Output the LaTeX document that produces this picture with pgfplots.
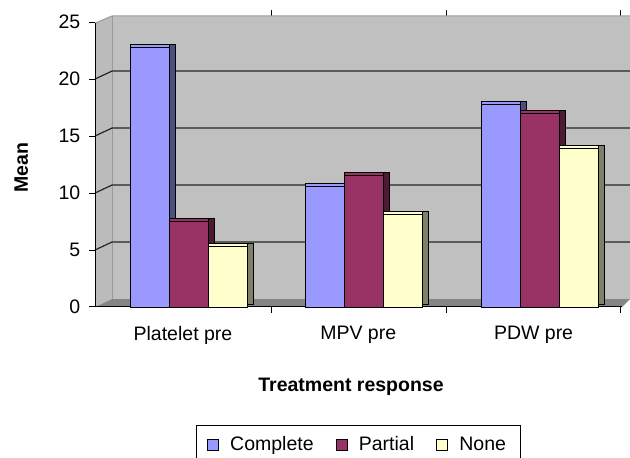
\documentclass[border=0pt]{standalone}
\usepackage{fontspec}
\setmainfont{Liberation Sans}
\usepackage{pgfplots}
\pgfplotsset{compat=1.18}
\definecolor{cfront}{HTML}{9999FF}
\definecolor{cside}{HTML}{4D4D80}
\definecolor{pfront}{HTML}{993366}
\definecolor{pside}{HTML}{4D1A33}
\definecolor{nfront}{HTML}{FFFFCC}
\definecolor{nside}{HTML}{80806A}
\definecolor{wall}{HTML}{C0C0C0}
\definecolor{sidewall}{HTML}{BBBBBB}
\definecolor{floorc}{HTML}{858585}
\newcommand{\fs}{\fontsize{9.75}{11.7}\selectfont}
\begin{document}
\begin{tikzpicture}
\path[use as bounding box] (0,0) rectangle (315pt,229pt);
\begin{axis}[
  at={(47.5pt,75.5pt)}, anchor=south west,
  scale only axis, width=267.5pt, height=145.5pt,
  xmin=-0.536, xmax=2.516, ymin=0, ymax=25.53,
  clip=false,
  axis line style={draw=none},
  /pgf/number format/assume math mode=true,
  tick align=outside, major tick length=3pt,
  tick style={black, line width=0.5pt},
  ytick={0,5,10,15,20,25},
  yticklabel style={font=\fs, xshift=-0.8pt},
  xtick={0.4736,1.4665,2.459}, xticklabels={},
  extra x ticks={0,1,2},
  extra x tick labels={Platelet pre,MPV pre,PDW pre},
  extra x tick style={major tick length=0pt, xticklabel style={font=\fs, xshift=-3pt, yshift=-6pt}},
  xlabel={\bfseries Treatment response},
  xlabel style={font=\fs, at={(axis description cs:0.4785,-0.276)}, anchor=center},
  ylabel={\bfseries Mean},
  ylabel style={font=\fs, at={(axis description cs:-0.138,0.478)}, anchor=center, rotate=0},
  legend columns=3,
  legend style={font=\fs, at={(axis description cs:0.4925,-0.405)}, anchor=north,
    draw=black, line width=0.5pt, inner xsep=5.5pt, inner ysep=3.5pt,
    /tikz/every odd column/.append style={column sep=3.5pt},
    /tikz/every even column/.append style={column sep=9pt}},
  legend image code/.code={\draw[#1, draw=black, line width=0.5pt] (0pt,-2.9pt) rectangle (5.6pt,2.9pt);},
]
% walls and floor
\fill[sidewall] (axis cs:-0.536,0) -- (axis cs:-0.439,0.7) -- (axis cs:-0.439,25.53) -- (axis cs:-0.536,24.9) -- cycle;
\fill[wall] (axis cs:-0.439,0.7) rectangle (axis cs:2.516,25.53);
\draw[gray!80, line width=0.5pt] (axis cs:-0.536,24.9) -- (axis cs:-0.439,25.53) -- (axis cs:2.516,25.53);
\draw[gray!80, line width=0.5pt] (axis cs:-0.439,0.7) -- (axis cs:-0.439,25.53);
\pgfplotsinvokeforeach{5,10,15,20}{
  \draw[black!85, line width=0.6pt] (axis cs:-0.536,#1) -- (axis cs:-0.439,#1+0.7) -- (axis cs:2.516,#1+0.7);
}
\fill[floorc] (axis cs:-0.536,0) -- (axis cs:2.471,0) -- (axis cs:2.516,0.7) -- (axis cs:-0.439,0.7) -- cycle;
\draw[black, line width=0.5pt] (axis cs:-0.536,24.9) -- (axis cs:-0.536,0) -- (axis cs:2.471,0);
% Complete
\addplot[ybar, bar width=0.2225, bar shift=-0.1885, yshift=1.5pt, fill=cside, draw=black, line width=0.4pt, forget plot]
  coordinates {(0,22.8) (1,10.6) (2,17.8)};
\addplot[ybar, bar width=0.2225, bar shift=-0.2225, yshift=1.5pt, fill=cfront, draw=black, line width=0.4pt, forget plot]
  coordinates {(0,22.8) (1,10.6) (2,17.8)};
\addplot[ybar, bar width=0.2225, bar shift=-0.2225, fill=cfront, draw=black, line width=0.4pt]
  coordinates {(0,22.8) (1,10.6) (2,17.8)};
% Partial
\addplot[ybar, bar width=0.2225, bar shift=0.034, yshift=1.5pt, fill=pside, draw=black, line width=0.4pt, forget plot]
  coordinates {(0,7.5) (1,11.55) (2,17.0)};
\addplot[ybar, bar width=0.2225, bar shift=0, yshift=1.5pt, fill=pfront, draw=black, line width=0.4pt, forget plot]
  coordinates {(0,7.5) (1,11.55) (2,17.0)};
\addplot[ybar, bar width=0.2225, bar shift=0, fill=pfront, draw=black, line width=0.4pt]
  coordinates {(0,7.5) (1,11.55) (2,17.0)};
% None
\addplot[ybar, bar width=0.2225, bar shift=0.2565, yshift=1.5pt, fill=nside, draw=black, line width=0.4pt, forget plot]
  coordinates {(0,5.3) (1,8.1) (2,13.9)};
\addplot[ybar, bar width=0.2225, bar shift=0.2225, yshift=1.5pt, fill=nfront, draw=black, line width=0.4pt, forget plot]
  coordinates {(0,5.3) (1,8.1) (2,13.9)};
\addplot[ybar, bar width=0.2225, bar shift=0.2225, fill=nfront, draw=black, line width=0.4pt]
  coordinates {(0,5.3) (1,8.1) (2,13.9)};
\legend{Complete,Partial,None}
\end{axis}
\end{tikzpicture}
\end{document}
